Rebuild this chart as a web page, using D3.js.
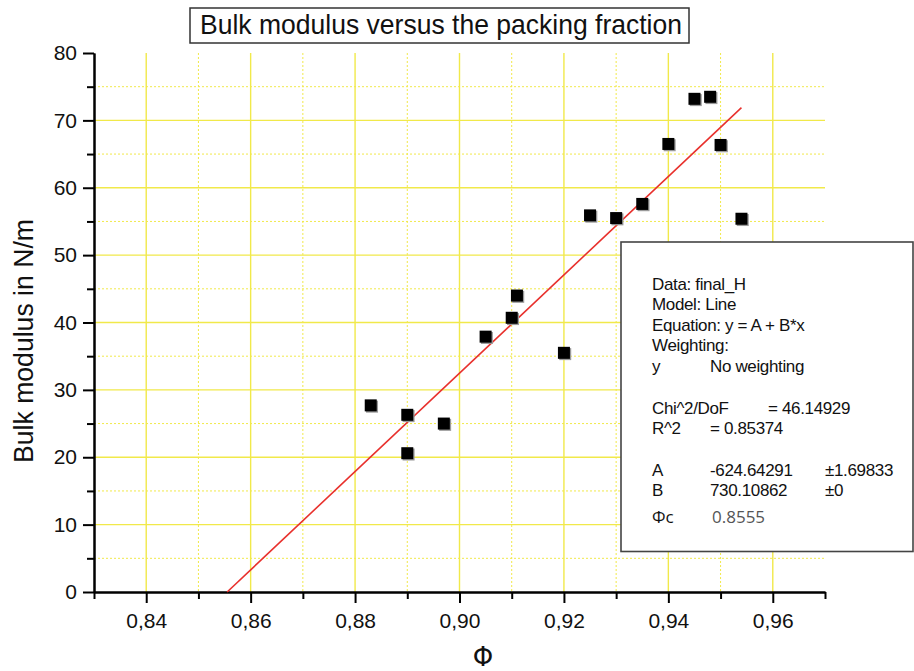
<!DOCTYPE html>
<html>
<head>
<meta charset="utf-8">
<script src="https://cdn.jsdelivr.net/npm/d3@7"></script>
<style>
  html, body { margin: 0; padding: 0; background: #fff; }
  svg { display: block; }
  text { font-family: "Liberation Sans", Arial, sans-serif; fill: #111; }
</style>
</head>
<body>
<svg id="chart" width="914" height="671"></svg>
<script>
// Packing fraction (Φ) and measured bulk modulus (N/m)
const phi  = [0.883, 0.890, 0.890, 0.897, 0.905, 0.910, 0.911, 0.920,
              0.925, 0.930, 0.935, 0.940, 0.945, 0.948, 0.950, 0.954];
const bulk = [27.7, 26.3, 20.6, 25.0, 37.9, 40.7, 44.0, 35.5,
              55.9, 55.5, 57.6, 66.5, 73.2, 73.5, 66.35, 55.4];

// Linear fit y = A + B*x
const fitA = -624.64291;
const fitB = 730.10862;
const phiC = 0.8555;

const xMajor = [0.84, 0.86, 0.88, 0.90, 0.92, 0.94, 0.96];
const xMinor = [0.83, 0.85, 0.87, 0.89, 0.91, 0.93, 0.95, 0.97];
const yMajor = [0, 10, 20, 30, 40, 50, 60, 70, 80];
const yMinor = [5, 15, 25, 35, 45, 55, 65, 75];

const fitLines = [
  "Data: final_H",
  "Model: Line",
  "Equation: y = A + B*x",
  "Weighting:"
];

const svg = d3.select("#chart");
const plotLeft = 94, plotRight = 825, plotTop = 53, plotBottom = 592;

const x = d3.scaleLinear().domain([0.83, 0.97]).range([plotLeft, plotRight]);
const y = d3.scaleLinear().domain([0, 80]).range([plotBottom, plotTop]);

const comma = d3.formatLocale({ decimal: ",", thousands: ".", grouping: [3], currency: ["", ""] });
const fmtX = comma.format(".2f");

const gridColor = "#f1e94a";

// Grid
const grid = svg.append("g");
grid.selectAll(".vmaj").data(xMajor).join("line")
  .attr("x1", d => x(d)).attr("x2", d => x(d))
  .attr("y1", plotTop).attr("y2", plotBottom)
  .attr("stroke", gridColor).attr("stroke-width", 1.4);
grid.selectAll(".vmin").data(xMinor.filter(d => d > 0.83 && d < 0.97)).join("line")
  .attr("x1", d => x(d)).attr("x2", d => x(d))
  .attr("y1", plotTop).attr("y2", plotBottom)
  .attr("stroke", gridColor).attr("stroke-width", 1).attr("stroke-dasharray", "2,2");
grid.selectAll(".hmaj").data(yMajor.filter(d => d > 0 && d < 80)).join("line")
  .attr("x1", plotLeft).attr("x2", plotRight)
  .attr("y1", d => y(d)).attr("y2", d => y(d))
  .attr("stroke", gridColor).attr("stroke-width", 1.4);
grid.selectAll(".hmin").data(yMinor).join("line")
  .attr("x1", plotLeft).attr("x2", plotRight)
  .attr("y1", d => y(d)).attr("y2", d => y(d))
  .attr("stroke", gridColor).attr("stroke-width", 1).attr("stroke-dasharray", "2,2");

// Axes
function styleAxis(g) {
  g.select(".domain").attr("stroke", "#000").attr("stroke-width", 2);
  g.selectAll(".tick line").attr("stroke", "#000").attr("stroke-width", 2);
  g.selectAll(".tick text").attr("fill", "#111")
    .style("font-family", "'Liberation Sans', Arial, sans-serif").style("font-size", "21px");
}

const xAxisMinor = svg.append("g").attr("transform", `translate(0,${plotBottom})`)
  .call(d3.axisBottom(x).tickValues(xMinor).tickSize(7).tickFormat("").tickSizeOuter(0));
styleAxis(xAxisMinor);
const xAxis = svg.append("g").attr("transform", `translate(0,${plotBottom})`)
  .call(d3.axisBottom(x).tickValues(xMajor).tickSize(11).tickPadding(10).tickFormat(fmtX).tickSizeOuter(0));
styleAxis(xAxis);

const yAxisMinor = svg.append("g").attr("transform", `translate(${plotLeft},0)`)
  .call(d3.axisLeft(y).tickValues(yMinor).tickSize(7).tickFormat("").tickSizeOuter(0));
styleAxis(yAxisMinor);
const yAxis = svg.append("g").attr("transform", `translate(${plotLeft},0)`)
  .call(d3.axisLeft(y).tickValues(yMajor).tickSize(11).tickPadding(6).tickFormat(d3.format("d")).tickSizeOuter(0));
styleAxis(yAxis);

// Fit line
const fitX = [phiC, d3.max(phi)];
svg.append("path")
  .datum(fitX.map(v => [v, fitA + fitB * v]))
  .attr("d", d3.line().x(d => x(d[0])).y(d => y(Math.max(0, d[1]))))
  .attr("stroke", "#e8302c").attr("stroke-width", 1.6).attr("fill", "none");

// Data markers
const pts = svg.append("g");
const sz = 12;
pts.selectAll(".shadow").data(phi).join("rect")
  .attr("x", d => x(d) - sz / 2 + 1.3).attr("y", (d, i) => y(bulk[i]) - sz / 2 + 1.3)
  .attr("width", sz).attr("height", sz).attr("fill", "#9a9a9a");
pts.selectAll(".pt").data(phi).join("rect")
  .attr("x", d => x(d) - sz / 2).attr("y", (d, i) => y(bulk[i]) - sz / 2)
  .attr("width", sz).attr("height", sz).attr("fill", "#000");

// Title box
svg.append("rect").attr("x", 190).attr("y", 8).attr("width", 499).attr("height", 35)
  .attr("fill", "#fff").attr("stroke", "#333").attr("stroke-width", 1.5);
svg.append("text").attr("x", 441).attr("y", 34).attr("text-anchor", "middle")
  .style("font-size", "28px").attr("textLength", 482).attr("lengthAdjust", "spacingAndGlyphs")
  .text("Bulk modulus versus the packing fraction");

// Axis titles
svg.append("text").attr("transform", "translate(33,463) rotate(-90)")
  .attr("text-anchor", "start").style("font-size", "27px")
  .attr("textLength", 244).attr("lengthAdjust", "spacingAndGlyphs")
  .text("Bulk modulus in N/m");
svg.append("text").attr("x", 483).attr("y", 666).attr("text-anchor", "middle")
  .style("font-size", "26px").style("font-family", "'DejaVu Sans', sans-serif")
  .text("Φ");

// Fit results box
const bx = 621, by = 242;
svg.append("rect").attr("x", bx).attr("y", by).attr("width", 292).attr("height", 309.5)
  .attr("fill", "#fff").attr("stroke", "#444").attr("stroke-width", 1.6);

const tx = 652, tcol = 710;
const info = svg.append("g").style("font-size", "17px").style("letter-spacing", "-0.35px");
info.selectAll(".ln").data(fitLines).join("text")
  .attr("x", tx).attr("y", (d, i) => 289.5 + i * 20.6).text(d => d);
info.append("text").attr("x", tx).attr("y", 372).text("y");
info.append("text").attr("x", tcol).attr("y", 372).text("No weighting");
info.append("text").attr("x", tx).attr("y", 413.5).text("Chi^2/DoF");
info.append("text").attr("x", 768).attr("y", 413.5).text("= 46.14929");
info.append("text").attr("x", tx).attr("y", 433.5).text("R^2");
info.append("text").attr("x", tcol).attr("y", 433.5).text("=  0.85374");
info.append("text").attr("x", tx).attr("y", 475.5).text("A");
info.append("text").attr("x", tcol).attr("y", 475.5).text(fitA.toFixed(5));
info.append("text").attr("x", 825).attr("y", 475.5).text("±1.69833");
info.append("text").attr("x", tx).attr("y", 495.5).text("B");
info.append("text").attr("x", tcol).attr("y", 495.5).text(fitB.toFixed(5));
info.append("text").attr("x", 825).attr("y", 495.5).text("±0");

const phiRow = svg.append("g").style("font-size", "17px");
phiRow.append("text").attr("x", tx).attr("y", 523)
  .style("font-family", "'Open Sans', 'Noto Sans', sans-serif").text("Φc");
phiRow.append("text").attr("x", 712).attr("y", 523)
  .style("font-family", "'Open Sans', 'Noto Sans', sans-serif")
  .style("fill", "#555").text(phiC.toFixed(4));
</script>
</body>
</html>
